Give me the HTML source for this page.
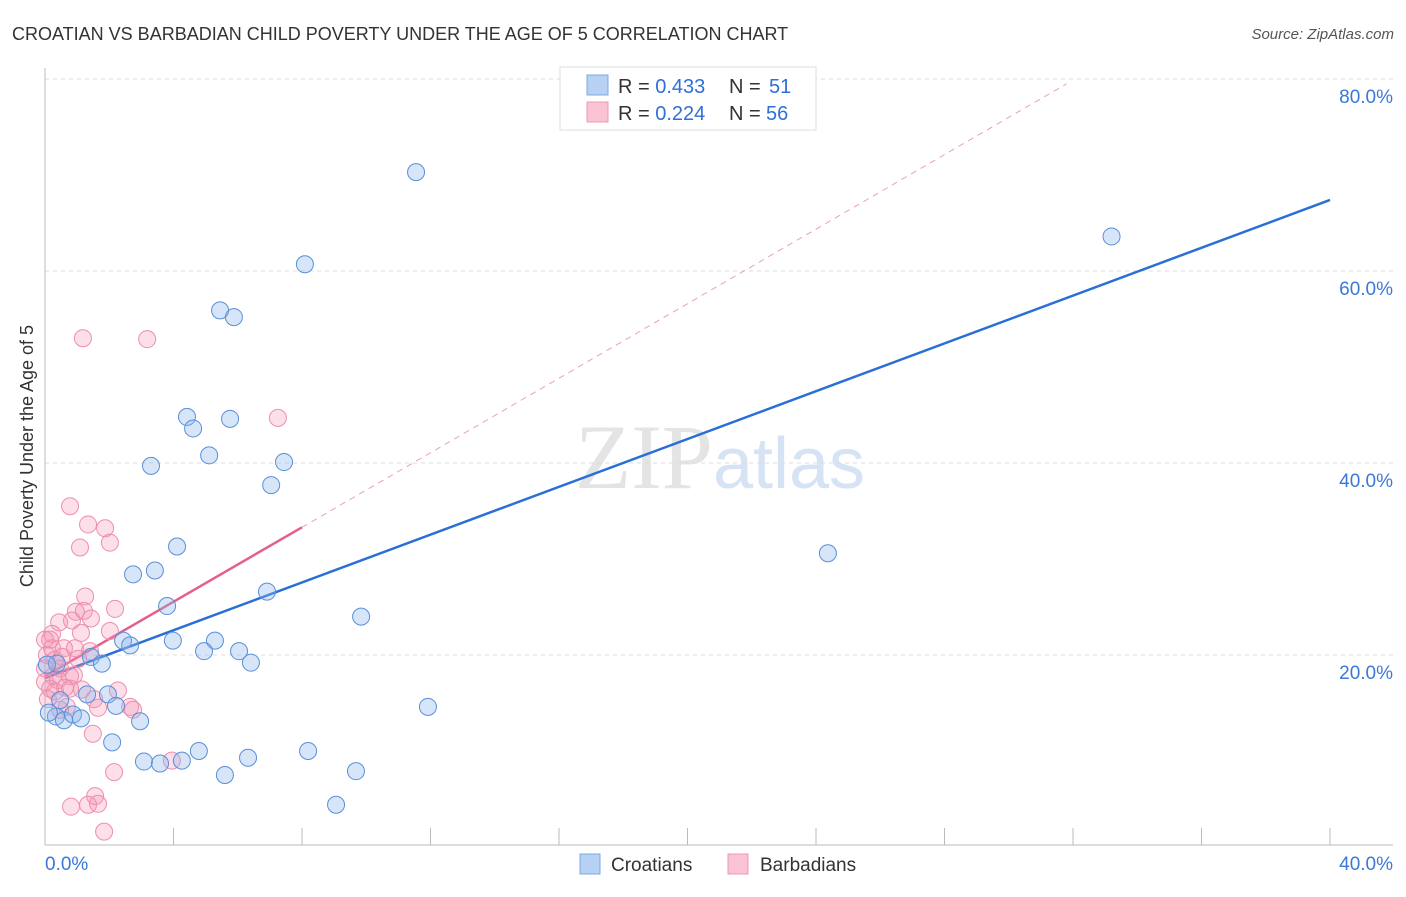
<!DOCTYPE html>
<html><head><meta charset="utf-8"><style>
body{margin:0;background:#fff;font-family:"Liberation Sans",sans-serif;}
svg text{font-family:"Liberation Sans",sans-serif;}
</style></head><body>
<svg id="chart" width="1406" height="892" xmlns="http://www.w3.org/2000/svg">
<text x="12" y="40" font-size="18" fill="#333">CROATIAN VS BARBADIAN CHILD POVERTY UNDER THE AGE OF 5 CORRELATION CHART</text>
<text x="1394" y="39" font-size="15" fill="#555" font-style="italic" text-anchor="end">Source: ZipAtlas.com</text>
<text x="720" y="488" font-size="92" text-anchor="middle" fill="#e4e4e4"><tspan font-family="Liberation Serif">ZIP</tspan><tspan fill="#d6e3f5" font-size="72">atlas</tspan></text>
<g id="grid"></g>
<g id="axes"></g>
<g id="trends"></g>
<g id="pts"></g>
<text transform="translate(33,456) rotate(-90)" font-size="18" fill="#333" text-anchor="middle">Child Poverty Under the Age of 5</text>
<g>
<rect x="560" y="67" width="256" height="63" fill="#fff" stroke="#ddd"/>
<rect x="587" y="75" width="21" height="20" fill="#b7d1f5" stroke="#7fa9e0"/>
<rect x="587" y="102" width="21" height="20" fill="#f9c3d3" stroke="#ee9ab4"/>
<text x="618" y="93" font-size="20" fill="#333">R = <tspan fill="#2f6fd8">0.433</tspan><tspan x="729">N = </tspan><tspan x="769" fill="#2f6fd8">51</tspan></text>
<text x="618" y="120" font-size="20" fill="#333">R = <tspan fill="#2f6fd8">0.224</tspan><tspan x="729">N = </tspan><tspan x="766" fill="#2f6fd8">56</tspan></text>
</g>
<g>
<rect x="580" y="854" width="20" height="20" fill="#b7d1f5" stroke="#7fa9e0"/>
<text x="611" y="871" font-size="19" fill="#333">Croatians</text>
<rect x="728" y="854" width="20" height="20" fill="#f9c3d3" stroke="#ee9ab4"/>
<text x="760" y="871" font-size="19" fill="#333">Barbadians</text>
</g>
</svg>
<script>
const blueX=[11.55,33.2,8.09,5.45,5.88,4.42,4.61,5.76,3.30,5.11,7.44,7.04,24.37,4.11,3.42,2.74,6.91,3.80,9.84,2.43,2.65,3.98,5.29,4.95,6.04,6.41,1.43,1.77,0.37,1.31,1.96,2.21,11.92,0.34,0.59,0.87,1.12,2.96,2.09,3.08,3.58,4.26,4.79,6.32,5.60,8.19,9.68,9.06,0.12,0.06,0.47];
const blueY=[70.3,63.6,60.7,55.9,55.2,44.8,43.6,44.6,39.7,40.8,40.1,37.7,30.6,31.3,28.8,28.4,26.6,25.1,24.0,21.5,21.0,21.5,21.5,20.4,20.4,19.2,19.8,19.1,19.1,15.9,15.9,14.7,14.6,13.6,13.2,13.8,13.4,13.1,10.9,8.9,8.7,9.0,10.0,9.3,7.5,10.0,7.9,4.4,14.0,19.0,15.3];
const pinkX=[1.18,3.18,7.25,0.78,1.34,1.87,2.02,1.09,1.25,0.96,1.21,2.18,0.44,0.84,1.43,0.22,1.12,2.02,0.93,1.40,0.22,0.59,0.06,0.31,0.47,0,0.25,0.78,0.90,0,0.40,0.78,0.62,1.15,2.27,1.53,2.65,2.74,0.68,1.49,2.15,3.95,1.56,1.34,1.65,0.81,1.84,0.16,0.09,0.47,0.16,0.53,1.03,1.65,0,0.31];
const pinkY=[53.0,52.9,44.7,35.5,33.6,33.2,31.7,31.2,26.1,24.5,24.6,24.8,23.4,23.6,23.8,22.2,22.3,22.5,20.7,20.4,20.7,20.7,20.0,19.5,18.6,18.6,17.8,17.8,17.9,17.2,17.4,16.5,16.6,16.4,16.3,15.4,14.6,14.3,14.6,11.8,7.8,9.0,5.3,4.4,4.5,4.2,1.6,16.5,15.4,14.3,21.6,19.8,19.6,14.5,21.6,16.2];
const yTicks=[20,40,60,80];
const xTickLabels=["0.0%","40.0%"];
const blueTrend=[0,17.6,40,67.4];
const pinkTrend=[0,17.8,8,33.3];
const pinkDash=[8,33.3,31.8,79.5];
const NS="http://www.w3.org/2000/svg";
const sx=v=>45+v*32.125, sy=v=>847-v*9.6;
function mk(t,a,p){const e=document.createElementNS(NS,t);for(const k in a)e.setAttribute(k,a[k]);p.appendChild(e);return e;}
const grid=document.getElementById('grid'),axes=document.getElementById('axes');
yTicks.forEach(t=>{
 const l=mk('line',{x1:45,x2:1393,y1:sy(t),y2:sy(t),stroke:'#ddd','stroke-dasharray':'4,4'},grid);
 
 
 const tx=mk('text',{x:1393,y:sy(t)+24,'font-size':19,fill:'#3b78d8','text-anchor':'end'},axes);
 tx.textContent=t.toFixed(1)+'%';
 
 
});
mk('line',{x1:45,x2:45,y1:68,y2:845,stroke:'#bbb'},axes);
mk('line',{x1:45,x2:1393,y1:845,y2:845,stroke:'#bbb'},axes);
for(let i=0;i<=40;i+=4){const t=mk('line',{x1:sx(i),x2:sx(i),y1:828,y2:845,stroke:'#bbb'},axes);
 
 }
const xl0=mk('text',{x:45,y:870,'font-size':19,fill:'#3b78d8'},axes);xl0.textContent=xTickLabels[0];


const xl1=mk('text',{x:1393,y:870,'font-size':19,fill:'#3b78d8','text-anchor':'end'},axes);xl1.textContent=xTickLabels[1];


const pts=document.getElementById('pts');
pinkX.forEach((x,i)=>{const c=mk('circle',{cx:sx(x),cy:sy(pinkY[i]),r:8.5,fill:'rgba(244,150,180,0.3)',stroke:'#ec8fae','stroke-width':1},pts);
 
 });
blueX.forEach((x,i)=>{const c=mk('circle',{cx:sx(x),cy:sy(blueY[i]),r:8.5,fill:'rgba(140,180,235,0.35)',stroke:'#5a8fd8','stroke-width':1},pts);
 
 });
const tr=document.getElementById('trends');
const d=mk('line',{x1:sx(pinkDash[0]),y1:sy(pinkDash[1]),x2:sx(pinkDash[2]),y2:sy(pinkDash[3]),stroke:'#eaa0b8','stroke-dasharray':'6,5','stroke-width':1},tr);


const b=mk('line',{x1:sx(blueTrend[0]),y1:sy(blueTrend[1]),x2:sx(blueTrend[2]),y2:sy(blueTrend[3]),stroke:'#2a6fd6','stroke-width':2.5},tr);


const p=mk('line',{x1:sx(pinkTrend[0]),y1:sy(pinkTrend[1]),x2:sx(pinkTrend[2]),y2:sy(pinkTrend[3]),stroke:'#e4608a','stroke-width':2.5},tr);


</script>
</body></html>
